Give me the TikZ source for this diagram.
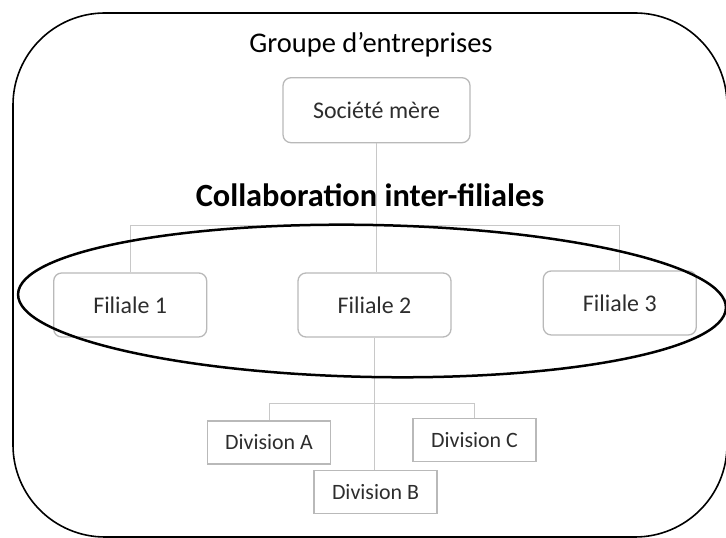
\documentclass[tikz,border=0pt]{standalone}
\usepackage{fontspec}
\setmainfont{Carlito}
\usetikzlibrary{positioning}
\definecolor{boxgray}{RGB}{185,185,185}
\definecolor{linkgray}{RGB}{200,200,200}
\definecolor{textgray}{RGB}{45,45,45}

\begin{document}
\begin{tikzpicture}[x=1bp, y=1bp, node distance = 90bp,
    filiale/.style={rectangle, rounded corners=8bp, draw=boxgray, line width=1.3bp,
      minimum width=153bp, minimum height=64bp, text=textgray, font=\fontsize{24}{28}\selectfont},
    division/.style={rectangle, draw=boxgray, line width=1.3bp,
      minimum width=123bp, minimum height=43bp, text=textgray, font=\fontsize{22}{26}\selectfont},
    link/.style={draw=linkgray, line width=1bp}]
      \useasboundingbox (0,0) rectangle (726,538);
      % Place nodes
      \node [filiale] (f2) at (374.5,233) {Filiale 2};
      \node [filiale, left= of f2] (f1) {Filiale 1};
      \node [filiale, right= 91bp of f2, yshift=2bp] (f3) {Filiale 3};
      \node [filiale, minimum width=187bp, minimum height=65bp, above= 129bp of f2, xshift=2bp] (mere) {Société mère};
      \node [anchor=base, font=\fontsize{28.6}{33}\selectfont] (groupe) at (371,485) {Groupe d’entreprises};
      \node [anchor=base, font=\bfseries\fontsize{32.5}{38}\selectfont] (collab) at (370,331) {Collaboration inter-filiales};
      \node [division, below= 132bp of f2, xshift=1bp] (divb) {Division B};
      \node [division] (diva) at (269,95.5) {Division A};
      \node [division] (divc) at (474.5,98) {Division C};
      % Draw edges
      \coordinate (fbar) at ([yshift=-82bp]mere.south);
      \coordinate (dbar) at ([yshift=-66bp]f2.south);
      \path [link] (mere.south) -- (mere.south |- f2.north);
      \path [link] (f1.north) |- (fbar) -| (f3.north);
      \path [link] (f2.south) -- (f2.south |- divb.north);
      \path [link] (diva.north) |- (dbar) -| (divc.north);
      % Groups
      \draw [line width=2.5bp, rotate around={-1.1:(372,237)}] (372,237) ellipse [x radius=354bp, y radius=76bp];
      \draw [line width=1.6bp, rounded corners=92bp] (13,1) rectangle (727,525);
  \end{tikzpicture}
\end{document}
